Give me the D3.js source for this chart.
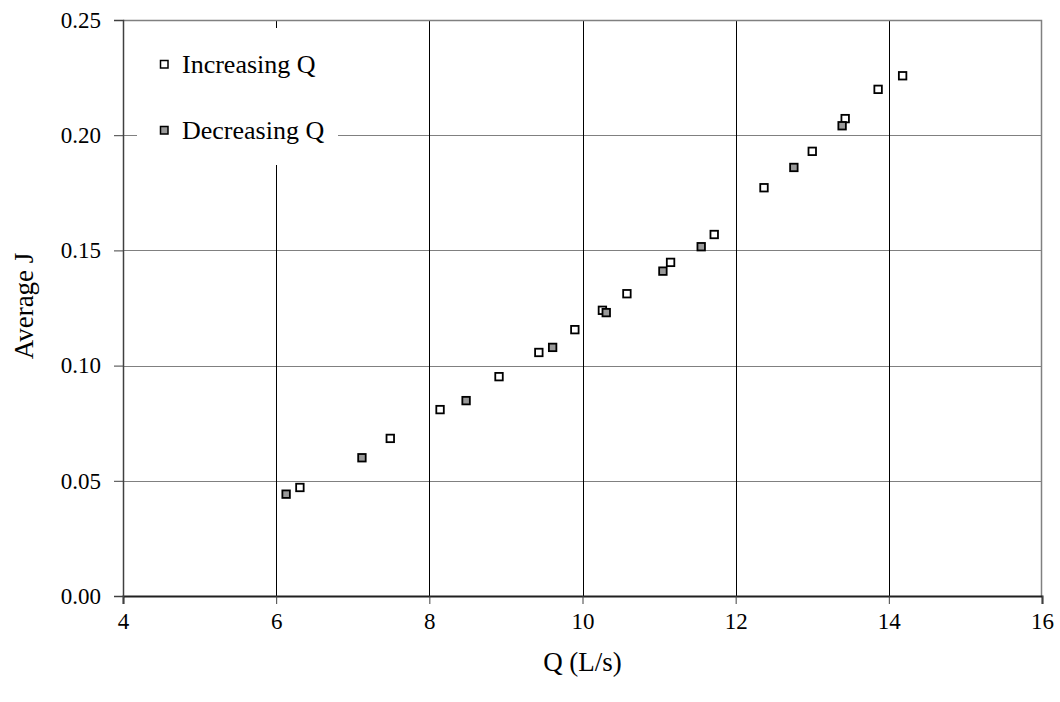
<!DOCTYPE html>
<html>
<head>
<meta charset="utf-8">
<script src="https://cdn.jsdelivr.net/npm/d3@7"></script>
<style>
  html, body { margin: 0; padding: 0; background: #fff; }
  svg { display: block; }
  text { font-family: "Liberation Serif", "Times New Roman", serif; fill: #000; }
</style>
</head>
<body>
<svg id="chart" width="1060" height="702"></svg>
<script>
// Average J against discharge Q, measured while raising and while lowering the flow
const increasingQ = [6.31, 7.49, 8.14, 8.91, 9.43, 9.90, 10.26, 10.58, 11.15, 11.72, 12.37, 13.00, 13.43, 13.86, 14.18];
const increasingJ = [0.0471, 0.0684, 0.0809, 0.0952, 0.1057, 0.1156, 0.1240, 0.1312, 0.1448, 0.1569, 0.1772, 0.1930, 0.2072, 0.2199, 0.2258];
const decreasingQ = [6.13, 7.12, 8.48, 9.61, 10.31, 11.05, 11.55, 12.76, 13.39];
const decreasingJ = [0.0442, 0.0600, 0.0848, 0.1079, 0.1230, 0.1410, 0.1516, 0.1860, 0.2041];

const xTicks = [4, 6, 8, 10, 12, 14, 16];
const yTicks = [0, 0.05, 0.10, 0.15, 0.20, 0.25];
const seriesNames = ["Increasing Q", "Decreasing Q"];
const xTitle = "Q (L/s)";
const yTitle = "Average J";

const W = 1060, H = 702;
const margin = { left: 123, top: 20, right: 18, bottom: 106 };
const plotW = W - margin.left - margin.right;
const plotH = H - margin.top - margin.bottom;

const svg = d3.select("#chart");
const g = svg.append("g").attr("transform", `translate(${margin.left},${margin.top})`);

const x = d3.scaleLinear().domain([4, 16]).range([0, plotW]);
const y = d3.scaleLinear().domain([0, 0.25]).range([plotH, 0]);

// horizontal gridlines (grey)
g.append("g").selectAll("line")
  .data(yTicks.filter(t => t > 0 && t < 0.25))
  .join("line")
  .attr("x1", 0).attr("x2", plotW)
  .attr("y1", d => Math.round(y(d)) + 0.5).attr("y2", d => Math.round(y(d)) + 0.5)
  .attr("stroke", "#808080").attr("stroke-width", 1);

// vertical gridlines (black)
g.append("g").selectAll("line")
  .data(xTicks.filter(t => t > 4 && t < 16))
  .join("line")
  .attr("x1", d => Math.round(x(d)) + 0.5).attr("x2", d => Math.round(x(d)) + 0.5)
  .attr("y1", 0).attr("y2", plotH)
  .attr("stroke", "#000").attr("stroke-width", 1);

// top and right frame
g.append("path")
  .attr("d", `M0,0.5H${plotW - 0.5}V${plotH}`)
  .attr("fill", "none").attr("stroke", "#808080").attr("stroke-width", 1.5);

// axes
const xAxis = d3.axisBottom(x).tickValues(xTicks).tickSize(8).tickPadding(9)
  .tickFormat(d3.format("d"));
const yAxis = d3.axisLeft(y).tickValues(yTicks).tickSize(9).tickPadding(13)
  .tickFormat(d3.format(".2f"));

const gx = g.append("g").attr("transform", `translate(0,${plotH})`).call(xAxis);
const gy = g.append("g").call(yAxis);

[gx, gy].forEach(ax => {
  ax.select(".domain").attr("stroke", "#404040").attr("stroke-width", 1.5);
  ax.selectAll(".tick line").attr("stroke", "#404040").attr("stroke-width", 1);
  ax.selectAll(".tick text")
    .attr("font-family", "'Liberation Serif', 'Times New Roman', serif")
    .attr("font-size", 23).attr("fill", "#000");
});
gx.select(".domain").attr("stroke", "#202020").attr("stroke-width", 2);

// axis titles
svg.append("text")
  .attr("x", margin.left + plotW / 2).attr("y", 671)
  .attr("text-anchor", "middle").attr("font-size", 27)
  .text(xTitle);

svg.append("text")
  .attr("transform", `translate(33,${margin.top + plotH / 2 - 2}) rotate(-90)`)
  .attr("text-anchor", "middle").attr("font-size", 27)
  .text(yTitle);

// legend panel sits over the gridlines
const legend = svg.append("g");
legend.append("rect")
  .attr("x", 137).attr("y", 28).attr("width", 201).attr("height", 137)
  .attr("fill", "#fff");

const fills = ["#fff", "#999"];
const legendY = [64, 130];
seriesNames.forEach((name, i) => {
  legend.append("rect")
    .attr("x", 160.5).attr("y", legendY[i] - 3.5).attr("width", 7.5).attr("height", 7.5)
    .attr("fill", fills[i]).attr("stroke", "#000").attr("stroke-width", 1.5);
  legend.append("text")
    .attr("x", 182).attr("y", legendY[i] + 9)
    .attr("font-size", 26)
    .text(name);
});

// data markers: increasing first, decreasing drawn on top
const size = 7.5;
function drawSeries(qs, js, fill) {
  g.append("g").selectAll("rect")
    .data(qs.map((q, i) => ({ q, j: js[i] })))
    .join("rect")
    .attr("x", d => x(d.q) - size / 2)
    .attr("y", d => y(d.j) - size / 2)
    .attr("width", size).attr("height", size)
    .attr("fill", fill).attr("stroke", "#000").attr("stroke-width", 1.8);
}
drawSeries(increasingQ, increasingJ, "#fff");
drawSeries(decreasingQ, decreasingJ, "#999");
</script>
</body>
</html>
